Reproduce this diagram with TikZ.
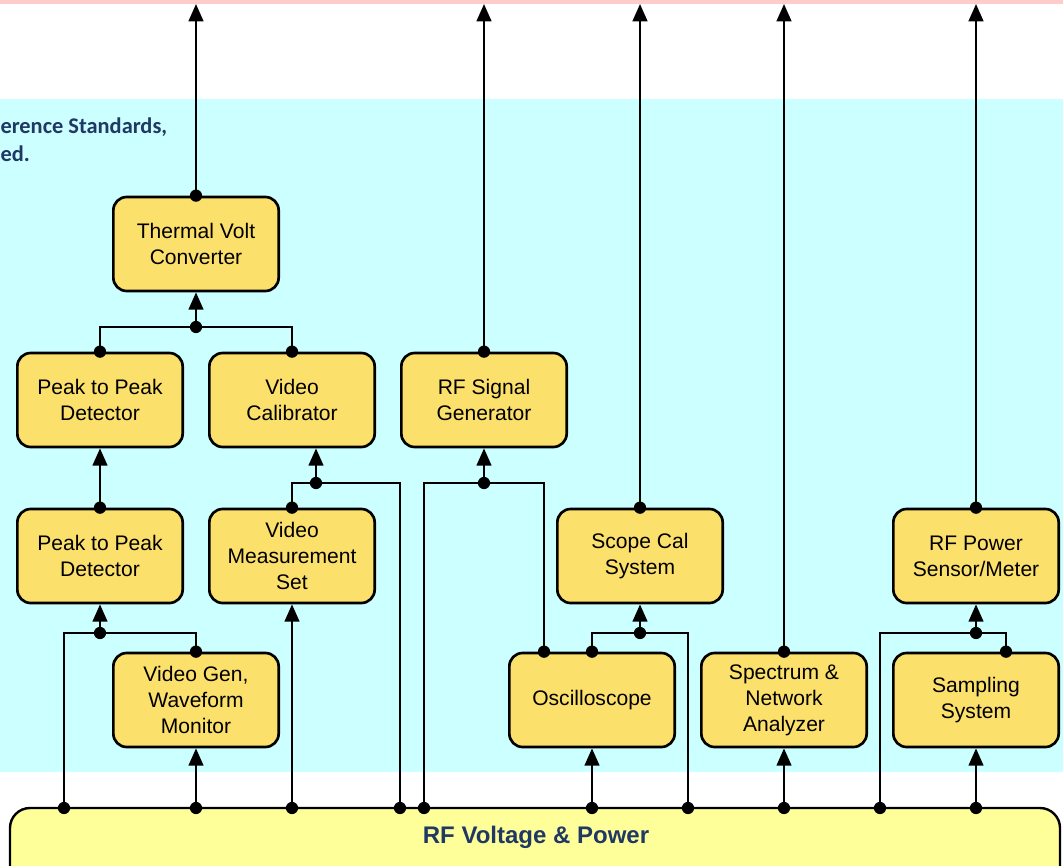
\documentclass[tikz,border=0pt]{standalone}
\usepackage{fontspec}
\setmainfont{Liberation Sans}
\newfontfamily\calfont{Carlito}
\usetikzlibrary{arrows.meta,calc}

\definecolor{bandpink}{RGB}{255,204,204}
\definecolor{zonecyan}{RGB}{204,255,255}
\definecolor{unitfill}{RGB}{252,224,108}
\definecolor{busfill}{RGB}{255,255,153}
\definecolor{navytext}{RGB}{31,56,100}

\tikzset{every picture/.style={line width=0.75pt}}
\tikzset{
  unit/.style={draw, line width=2pt, rounded corners=10pt, fill=unitfill,
    minimum width=124pt, minimum height=70.5pt, align=center, inner sep=2pt,
    font=\fontsize{15.8}{19.5}\selectfont},
  link/.style={line width=1.8pt},
  feed/.style={link, -{Triangle[length=13pt,width=11pt]}},
  jdot/.style={fill=black}
}

\begin{document}
\begin{tikzpicture}[x=0.75pt,y=0.75pt,yscale=-1,xscale=1]
		\useasboundingbox (0,0) rectangle (1063,866);
		
		%Background bands
		\fill[bandpink] (0,0) rectangle (1063,4);
		\fill[zonecyan] (0,99) rectangle (1063,772);
		% Text Node
		\node[anchor=west, inner sep=0pt, align=left, text=navytext,
		  font=\calfont\bfseries\fontsize{16.8}{21}\selectfont] (note) at (0,140) {erence Standards,\\ed.};
		
		%Bus bar
		\draw[link, fill=busfill, rounded corners=15pt] (10,910) -- (10,808) -- (1060,808) -- (1060,910);
		\node[text=navytext, font=\bfseries\fontsize{18}{21}\selectfont] (bus) at (536,837) {RF Voltage \& Power};
		
		%Units
		\node[unit] (tvc) at (196,244) {Thermal Volt\\Converter};
		\node[unit] (ppdtop) at (100,400) {Peak to Peak\\Detector};
		\node[unit] (vcal) at (292,400) {Video\\Calibrator};
		\node[unit] (rfgen) at (484,400) {RF Signal\\Generator};
		\node[unit] (ppdlow) at (100,556) {Peak to Peak\\Detector};
		\node[unit] (vms) at (292,556) {Video\\Measurement\\Set};
		\node[unit] (scal) at (640,556) {Scope Cal\\System};
		\node[unit] (rfpow) at (976,556) {RF Power\\Sensor/Meter};
		\node[unit] (vgen) at (196,700) {Video Gen,\\Waveform\\Monitor};
		\node[unit] (osc) at (592,700) {Oscilloscope};
		\node[unit] (sna) at (784,700) {Spectrum \&\\Network\\Analyzer};
		\node[unit] (samp) at (976,700) {Sampling\\System};
		
		%Bus taps
		\foreach \x in {64,196,292,400,424,592,688,784,880,976}
		  \coordinate (b\x) at (\x,808);
		%Outputs
		\foreach \x in {196,484,640,784,976}
		  \coordinate (out\x) at (\x,4);
		%Junctions
		\coordinate (jtvc) at (196,327);
		\coordinate (jpp) at (100,633);
		\coordinate (jvc) at (316,483);
		\coordinate (jrf) at (484,483);
		\coordinate (jsc) at (640,633);
		\coordinate (jrp) at (976,633);
		\coordinate (osctap) at ($(osc.north)+(-48,0)$);
		\coordinate (samptap) at ($(samp.north)+(30,0)$);
		
		%Straight Lines
		\draw[feed] (tvc.north) -- (out196);
		\draw[feed] (rfgen.north) -- (out484);
		\draw[feed] (scal.north) -- (out640);
		\draw[feed] (sna.north) -- (out784);
		\draw[feed] (rfpow.north) -- (out976);
		
		\draw[link] (ppdtop.north) |- (jtvc) -| (vcal.north);
		\draw[feed] (jtvc) -- (tvc.south);
		\draw[feed] (ppdlow.north) -- (ppdtop.south);
		
		\draw[link] (b64) |- (jpp) -| (vgen.north);
		\draw[feed] (jpp) -- (ppdlow.south);
		\draw[feed] (b196) -- (vgen.south);
		
		\draw[feed] (b292) -- (vms.south);
		\draw[link] (vms.north) |- (jvc) -| (b400);
		\draw[feed] (jvc) -- (jvc |- vcal.south);
		
		\draw[link] (b424) |- (jrf) -| (osctap);
		\draw[feed] (jrf) -- (rfgen.south);
		
		\draw[link] (osc.north) |- (jsc) -| (b688);
		\draw[feed] (jsc) -- (scal.south);
		\draw[feed] (b592) -- (osc.south);
		
		\draw[feed] (b784) -- (sna.south);
		
		\draw[link] (b880) |- (jrp) -| (samptap);
		\draw[feed] (jrp) -- (rfpow.south);
		\draw[feed] (b976) -- (samp.south);
		
		%Dots
		\foreach \p in {tvc.north,jtvc,ppdtop.north,vcal.north,ppdlow.north,jpp,vgen.north,
		  jvc,vms.north,rfgen.north,jrf,osctap,osc.north,jsc,scal.north,sna.north,
		  rfpow.north,jrp,samptap,b64,b196,b292,b400,b424,b592,b688,b784,b880,b976}
		  \fill[jdot] (\p) circle (4.6pt);
		\end{tikzpicture}
\end{document}
